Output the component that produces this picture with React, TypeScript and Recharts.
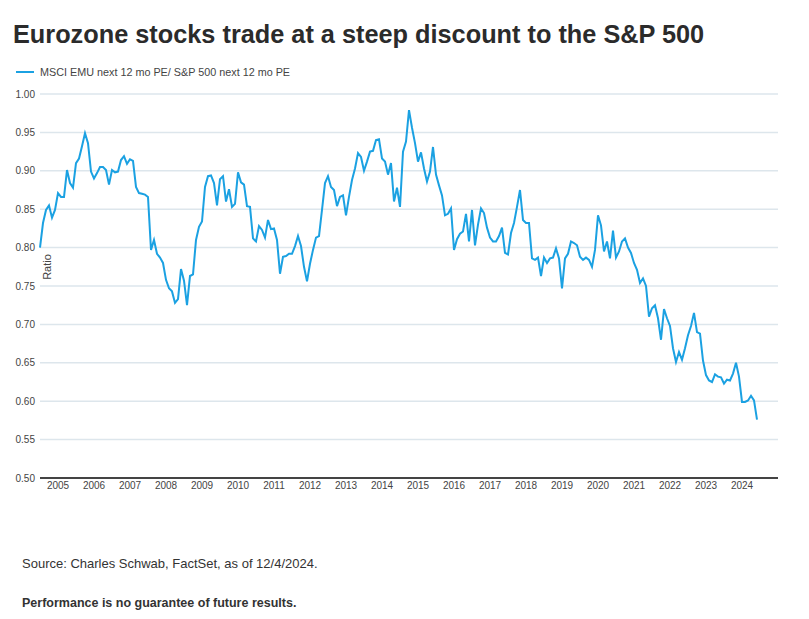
import React from 'react';
import { LineChart, Line, XAxis, YAxis, CartesianGrid } from 'recharts';

// monthly ratio, Jan 2005 .. Dec 2024
const ratio = [
    0.800, 0.832, 0.849, 0.855, 0.839, 0.849, 0.871, 0.866, 0.866, 0.901, 0.884, 0.878, // 2005
    0.910, 0.916, 0.932, 0.949, 0.936, 0.899, 0.890, 0.897, 0.905, 0.905, 0.901, 0.882, // 2006
    0.901, 0.898, 0.899, 0.914, 0.919, 0.909, 0.915, 0.913, 0.879, 0.871, 0.870, 0.869, // 2007
    0.866, 0.797, 0.810, 0.792, 0.787, 0.780, 0.758, 0.747, 0.743, 0.728, 0.733, 0.772, // 2008
    0.757, 0.725, 0.763, 0.765, 0.810, 0.827, 0.834, 0.879, 0.893, 0.894, 0.884, 0.855, // 2009
    0.889, 0.893, 0.860, 0.876, 0.853, 0.857, 0.898, 0.885, 0.882, 0.854, 0.853, 0.812, // 2010
    0.808, 0.828, 0.823, 0.813, 0.836, 0.824, 0.825, 0.810, 0.766, 0.788, 0.789, 0.792, // 2011
    0.792, 0.802, 0.815, 0.802, 0.775, 0.756, 0.779, 0.797, 0.813, 0.815, 0.849, 0.884, // 2012
    0.893, 0.879, 0.875, 0.854, 0.866, 0.868, 0.842, 0.866, 0.888, 0.903, 0.923, 0.918, // 2013
    0.900, 0.912, 0.925, 0.926, 0.940, 0.941, 0.916, 0.912, 0.895, 0.910, 0.860, 0.878, // 2014
    0.853, 0.925, 0.938, 0.979, 0.956, 0.936, 0.912, 0.924, 0.903, 0.886, 0.899, 0.931, // 2015
    0.895, 0.881, 0.868, 0.842, 0.844, 0.851, 0.797, 0.811, 0.818, 0.821, 0.844, 0.808, // 2016
    0.849, 0.803, 0.830, 0.851, 0.845, 0.826, 0.813, 0.808, 0.808, 0.815, 0.826, 0.793, // 2017
    0.791, 0.819, 0.832, 0.853, 0.875, 0.836, 0.832, 0.832, 0.786, 0.784, 0.787, 0.763, // 2018
    0.787, 0.780, 0.786, 0.787, 0.799, 0.786, 0.747, 0.786, 0.792, 0.808, 0.806, 0.803, // 2019
    0.788, 0.784, 0.787, 0.784, 0.775, 0.797, 0.842, 0.829, 0.795, 0.808, 0.786, 0.822, // 2020
    0.787, 0.795, 0.808, 0.812, 0.800, 0.793, 0.780, 0.771, 0.754, 0.760, 0.750, 0.710, // 2021
    0.721, 0.725, 0.708, 0.680, 0.720, 0.708, 0.698, 0.669, 0.651, 0.664, 0.654, 0.669, // 2022
    0.686, 0.698, 0.715, 0.690, 0.688, 0.653, 0.634, 0.627, 0.625, 0.635, 0.632, 0.631, // 2023
    0.623, 0.628, 0.627, 0.636, 0.650, 0.632, 0.599, 0.599, 0.601, 0.607, 0.601, 0.576, // 2024
];

const startYear = 2005;
const years = [2005, 2006, 2007, 2008, 2009, 2010, 2011, 2012, 2013, 2014,
    2015, 2016, 2017, 2018, 2019, 2020, 2021, 2022, 2023, 2024];
const yTicks = [0.5, 0.55, 0.6, 0.65, 0.7, 0.75, 0.8, 0.85, 0.9, 0.95, 1.0];

const seriesName = 'MSCI EMU next 12 mo PE/ S&P 500 next 12 mo PE';
const lineColor = '#1ba1e2';

const data = ratio.map((v, i) => ({ t: startYear + i / 12, ratio: v }));

const font = '"Liberation Sans", Arial, sans-serif';

export default function App() {
    return (
        <div style={{ position: 'absolute', left: 0, top: 0, width: 809, height: 619, background: '#fff' }}>
            <div style={{ position: 'absolute', left: 13, top: 20, fontFamily: font, fontWeight: 700, fontSize: 25.3, color: '#2b2b2b', whiteSpace: 'nowrap' }}>
                Eurozone stocks trade at a steep discount to the S&amp;P 500
            </div>
            {/* legend */}
            <div style={{ position: 'absolute', left: 16, top: 66, display: 'flex', alignItems: 'center', fontFamily: font, fontSize: 10.8, color: '#444', whiteSpace: 'nowrap' }}>
                <span style={{ display: 'inline-block', width: 18, height: 2, background: lineColor, marginRight: 6 }} />
                {seriesName}
            </div>
            <LineChart width={809} height={510} data={data} margin={{ top: 94, right: 31, left: 0, bottom: 0 }}>
                <CartesianGrid vertical={false} stroke="#dde6ec" strokeWidth={1.5} />
                <XAxis
                    type="number"
                    dataKey="t"
                    domain={[2005, 2025.5]}
                    ticks={years.map(y => y + 0.5)}
                    tickFormatter={(v: number) => String(Math.floor(v))}
                    interval={0}
                    height={32}
                    tickLine={false}
                    tickSize={0}
                    tickMargin={4}
                    axisLine={{ stroke: '#444', strokeWidth: 2 }}
                    tick={{ fontSize: 10, fill: '#444', fontFamily: font }}
                />
                <YAxis
                    domain={[0.5, 1.0]}
                    ticks={yTicks}
                    interval={0}
                    width={40}
                    axisLine={false}
                    tickLine={false}
                    tickSize={5}
                    tickMargin={0}
                    tickFormatter={(v: number) => v.toFixed(2)}
                    tick={{ fontSize: 10, fill: '#444', fontFamily: font }}
                />
                <Line
                    type="linear"
                    dataKey="ratio"
                    name={seriesName}
                    stroke={lineColor}
                    strokeWidth={2}
                    dot={false}
                    isAnimationActive={false}
                />
            </LineChart>
            <div style={{ position: 'absolute', left: 47, top: 267, transform: 'translate(-50%, -50%) rotate(-90deg)', fontFamily: font, fontSize: 11, color: '#444' }}>
                Ratio
            </div>
            <div style={{ position: 'absolute', left: 22, top: 556, fontFamily: font, fontSize: 13, color: '#333' }}>
                Source: Charles Schwab, FactSet, as of 12/4/2024.
            </div>
            <div style={{ position: 'absolute', left: 22, top: 596, fontFamily: font, fontSize: 12.5, fontWeight: 700, color: '#333' }}>
                Performance is no guarantee of future results.
            </div>
        </div>
    );
}
